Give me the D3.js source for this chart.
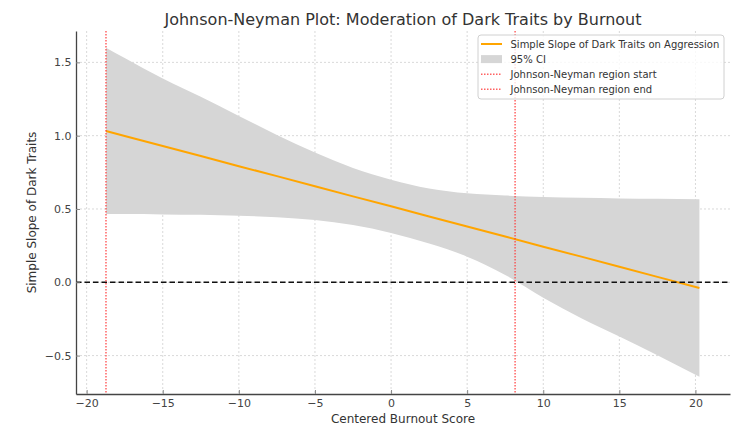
<!DOCTYPE html>
<html lang="en">
<head>
    <meta charset="UTF-8">
    <title>Johnson-Neyman Plot</title>
    <script src="https://d3js.org/d3.v7.min.js"></script>
    <style>
        body { margin: 0; background: #fff; }
        text { font-family: "DejaVu Sans", sans-serif; }
    </style>
</head>
<body>

<script>
    // values
    burnout = [-18.73, -17.5, -15, -12.5, -10, -7.5, -5, -2.5, 0, 2.5, 5, 7.5, 10, 12.5, 15, 17.5, 20.26]
    simpleSlope = [1.032, 0.998, 0.930, 0.861, 0.792, 0.724, 0.655, 0.586, 0.518, 0.449, 0.380, 0.312, 0.243, 0.175, 0.106, 0.037, -0.039]
    ciUpper = [1.600, 1.530, 1.390, 1.265, 1.135, 1.005, 0.885, 0.780, 0.700, 0.640, 0.607, 0.592, 0.582, 0.576, 0.572, 0.570, 0.567]
    ciLower = [0.465, 0.465, 0.463, 0.460, 0.454, 0.444, 0.425, 0.390, 0.337, 0.265, 0.175, 0.050, -0.105, -0.245, -0.370, -0.497, -0.645]
    jnBounds = [-18.73, 8.15]
    xTicks = [-20, -15, -10, -5, 0, 5, 10, 15, 20]
    yTicks = [-0.5, 0.0, 0.5, 1.0, 1.5]
    legendLabels = ["Simple Slope of Dark Traits on Aggression", "95% CI", "Johnson-Neyman region start", "Johnson-Neyman region end"]

    data = burnout.map((b, i) => ({x: b, slope: simpleSlope[i], lo: ciLower[i], hi: ciUpper[i]}))

    //chart dimensions
    w = 750
    h = 432
    margin = {top: 31, right: 20, bottom: 38, left: 76}
    width = w - margin.left - margin.right
    height = h - margin.top - margin.bottom

    svg = d3.select("body")
        .append("svg")
        .attr("width", w)
        .attr("height", h)
        .append("g")
        .attr("transform", "translate(" + margin.left + "," + margin.top + ")")

    //scales
    x = d3.scaleLinear()
        .domain([-20.70, 22.27])
        .range([0, width])

    y = d3.scaleLinear()
        .domain([-0.762, 1.714])
        .range([height, 0])

    //grid
    svg.append("g")
        .selectAll("line")
        .data(xTicks)
        .join("line")
        .attr("x1", (d) => x(d)).attr("x2", (d) => x(d))
        .attr("y1", 0).attr("y2", height)
        .attr("stroke", "#d9d9d9")
        .attr("stroke-dasharray", "2,2")

    svg.append("g")
        .selectAll("line")
        .data(yTicks)
        .join("line")
        .attr("y1", (d) => y(d)).attr("y2", (d) => y(d))
        .attr("x1", 0).attr("x2", width)
        .attr("stroke", "#d9d9d9")
        .attr("stroke-dasharray", "2,2")

    //confidence band
    svg.append("path")
        .datum(data)
        .attr("fill", "#d6d6d6")
        .attr("d", d3.area()
            .curve(d3.curveMonotoneX)
            .x((d) => x(d.x))
            .y0((d) => y(d.lo))
            .y1((d) => y(d.hi)))

    //simple slope
    svg.append("path")
        .datum(data)
        .attr("fill", "none")
        .attr("stroke", "#ffa500")
        .attr("stroke-width", 2)
        .attr("d", d3.line()
            .x((d) => x(d.x))
            .y((d) => y(d.slope)))

    //zero reference
    svg.append("line")
        .attr("x1", 0).attr("x2", width)
        .attr("y1", y(0)).attr("y2", y(0))
        .attr("stroke", "#111")
        .attr("stroke-width", 1.5)
        .attr("stroke-dasharray", "5.5,3")

    //Johnson-Neyman bounds
    svg.append("g")
        .selectAll("line")
        .data(jnBounds)
        .join("line")
        .attr("x1", (d) => x(d)).attr("x2", (d) => x(d))
        .attr("y1", 0).attr("y2", height)
        .attr("stroke", "#ff3b3b")
        .attr("stroke-opacity", 0.8)
        .attr("stroke-width", 1.5)
        .attr("stroke-dasharray", "1.5,1.5")

    //axes
    xAxis = svg.append("g")
        .attr("transform", "translate(0," + height + ")")
        .call(d3.axisBottom(x).tickValues(xTicks).tickSizeInner(-4).tickSizeOuter(0).tickPadding(5)
            .tickFormat((d) => d3.format("")(d).replace("-", "\u2212")))

    yAxis = svg.append("g")
        .call(d3.axisLeft(y).tickValues(yTicks).tickSizeInner(-4).tickSizeOuter(0).tickPadding(4.5)
            .tickFormat((d) => d3.format(".1f")(d).replace("-", "\u2212")))

    svg.selectAll(".domain").attr("stroke", "#444").attr("stroke-width", 1.3)
    svg.selectAll(".tick line").attr("stroke", "#888")
    svg.selectAll(".tick text")
        .attr("fill", "#444")
        .style("font-family", "DejaVu Sans")
        .style("font-size", "11px")

    //labels
    svg.append("text")
        .attr("x", width / 2)
        .attr("y", -6)
        .attr("text-anchor", "middle")
        .attr("fill", "#333")
        .style("font-size", "16px")
        .text("Johnson-Neyman Plot: Moderation of Dark Traits by Burnout")

    svg.append("text")
        .attr("x", width / 2)
        .attr("y", height + 28.5)
        .attr("text-anchor", "middle")
        .attr("fill", "#333")
        .style("font-size", "12px")
        .text("Centered Burnout Score")

    svg.append("text")
        .attr("transform", "translate(" + (-40) + "," + (height / 2) + ") rotate(-90)")
        .attr("text-anchor", "middle")
        .attr("fill", "#333")
        .style("font-size", "12px")
        .text("Simple Slope of Dark Traits")

    //legend
    legend = svg.append("g")
        .attr("transform", "translate(" + 402 + "," + 4 + ")")

    legend.append("rect")
        .attr("width", 246)
        .attr("height", 64)
        .attr("rx", 3)
        .attr("fill", "#fff")
        .attr("fill-opacity", 0.8)
        .attr("stroke", "#d0d0d0")

    rows = legend.selectAll("g.row")
        .data(legendLabels)
        .join("g")
        .attr("class", "row")
        .attr("transform", (d, i) => "translate(0," + (9 + i * 15.1) + ")")

    rows.each(function(d, i) {
        row = d3.select(this)
        if (i == 0) {
            row.append("line").attr("x1", 3).attr("x2", 24).attr("y1", 0).attr("y2", 0)
                .attr("stroke", "#ffa500").attr("stroke-width", 2)
        } else if (i == 1) {
            row.append("rect").attr("x", 3).attr("y", -4).attr("width", 21).attr("height", 8)
                .attr("fill", "#d6d6d6")
        } else {
            row.append("line").attr("x1", 3).attr("x2", 24).attr("y1", 0).attr("y2", 0)
                .attr("stroke", "#ff3b3b").attr("stroke-opacity", 0.8)
                .attr("stroke-width", 1.5).attr("stroke-dasharray", "1.5,1.5")
        }
        row.append("text")
            .attr("x", 32.5)
            .attr("y", 3.6)
            .attr("fill", "#333")
            .style("font-size", "10px")
            .text(d)
    })
</script>

</body>
</html>
